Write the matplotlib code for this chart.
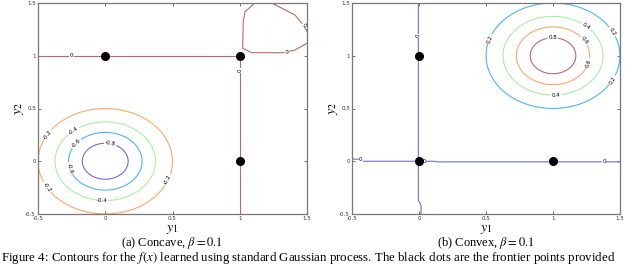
import numpy as np
import matplotlib
matplotlib.use("Agg")
import matplotlib.pyplot as plt

plt.rcParams['mathtext.fontset'] = 'stix'

# ---- data ----
tick_vals = [-0.5, 0, 0.5, 1, 1.5]
tick_labels = ['-0.5', '0', '0.5', '1', '1.5']

# Gaussian-shaped GP mean (amplitude / width read from ring radii)
bump_amp = 0.96
bump_width = 0.282
concave_center = (0.0, 0.0)
convex_center = (1.0, 1.0)

concave_levels = [-0.8, -0.6, -0.4, -0.2]
convex_levels = [0.2, 0.4, 0.6, 0.8]
concave_colors = ['#6b6bd6', '#4db3ff', '#a6f0a0', '#ffa866']
convex_colors = ['#4db3ff', '#a6f0a0', '#ffa866', '#b86a6a']
concave_zero_color = '#b86a6a'
convex_zero_color = '#6b6bd6'

concave_label_pos = [(-0.435, 0.258), (-0.435, -0.247), (0.469, -0.178),
                     (-0.232, 0.274), (-0.026, -0.38),
                     (-0.212, 0.164), (-0.262, -0.067),
                     (0.035, 0.147)]
convex_label_pos = [(0.521, 1.159), (1.443, 1.228), (1.443, 0.77),
                    (1.245, 1.275), (1.022, 0.628),
                    (1.22, 1.133), (1.257, 0.934),
                    (0.997, 1.159)]

# zero-level contour lines
concave_zero_L_x = [-0.5, 1.0, 1.0]
concave_zero_L_y = [1.0, 1.0, -0.5]
concave_blob_x = [1.113, 1.039, 1.026, 1.022, 1.089, 1.324, 1.349, 1.411, 1.5, np.nan,
                  1.238, 1.411, 1.473, 1.5]
concave_blob_y = [1.5, 1.418, 1.323, 1.071, 1.029, 1.029, 1.038, 1.055, 1.118, np.nan,
                  1.5, 1.386, 1.291, 1.228]
concave_zero_labels = [(-0.25, 1.0, 0), (1.0, 0.86, 90), (1.475, 1.29, -50), (1.349, 1.036, 10)]

convex_vert_x = [-0.005, -0.005, 0.005, 0.015, 0.015]
convex_vert_y = [1.5, -0.37, -0.39, -0.42, -0.5]
convex_horiz_x = [-0.5, -0.43, -0.42, 0.12, 0.13, 1.5]
convex_horiz_y = [0.02, 0.02, 0.0, 0.0, -0.006, -0.006]
convex_zero_labels = [(-0.005, 1.19, 90), (0.04, -0.006, 0), (1.38, -0.006, 0), (-0.435, 0.02, 0)]

concave_pts_x = [0, 1, 1]
concave_pts_y = [1, 1, 0]
convex_pts_x = [0, 0, 1]
convex_pts_y = [1, 0, 0]

# ---- figure ----
fig = plt.figure(figsize=(6.4, 2.67), dpi=100)
ax1 = fig.add_axes([38/640, 1-214/267, 269/640, 211/267])
ax2 = fig.add_axes([352/640, 1-214/267, 268/640, 211/267])

gx = np.linspace(-0.5, 1.5, 401)
gy = np.linspace(-0.5, 1.5, 401)
X, Y = np.meshgrid(gx, gy)


def bump(center, sign):
    r2 = (X - center[0])**2 + (Y - center[1])**2
    return sign * bump_amp * np.exp(-r2 / (2 * bump_width**2))


def style(ax):
    ax.set_xlim(-0.5, 1.5)
    ax.set_ylim(-0.5, 1.5)
    ax.set_xticks(tick_vals)
    ax.set_yticks(tick_vals)
    ax.set_xticklabels(tick_labels)
    ax.set_yticklabels(tick_labels)
    ax.tick_params(direction='in', length=2, width=0.6, labelsize=4, pad=1.5,
                   top=True, right=True, colors='#555555', labelcolor='#333333')
    for s in ax.spines.values():
        s.set_color('#777777')
        s.set_linewidth(0.9)
    ax.set_xlabel('$y_1$', fontsize=10, labelpad=1)
    ax.set_ylabel('$y_2$', fontsize=10, labelpad=-0.5)


fmt = lambda v: f'{v:g}'

# concave
cs1 = ax1.contour(X, Y, bump(concave_center, -1), levels=concave_levels,
                  colors=concave_colors, linewidths=0.8)
ax1.clabel(cs1, manual=concave_label_pos, fmt=fmt, fontsize=4, colors='k', inline=True,
           inline_spacing=1)
ax1.plot(concave_zero_L_x, concave_zero_L_y, color=concave_zero_color, lw=0.8)
ax1.plot(concave_blob_x, concave_blob_y, color=concave_zero_color, lw=0.8, clip_on=True)
for x, y, r in concave_zero_labels:
    ax1.text(x, y, '0', fontsize=4, rotation=r, ha='center', va='center',
             bbox=dict(facecolor='white', edgecolor='none', pad=0.3))
ax1.plot(concave_pts_x, concave_pts_y, 'o', color='k', ms=5.5, zorder=5)
style(ax1)

# convex
cs2 = ax2.contour(X, Y, bump(convex_center, 1), levels=convex_levels,
                  colors=convex_colors, linewidths=0.8)
ax2.clabel(cs2, manual=convex_label_pos, fmt=fmt, fontsize=4, colors='k', inline=True,
           inline_spacing=1)
ax2.plot(convex_vert_x, convex_vert_y, color=convex_zero_color, lw=0.8)
ax2.plot(convex_horiz_x, convex_horiz_y, color=convex_zero_color, lw=0.8)
for x, y, r in convex_zero_labels:
    ax2.text(x, y, '0', fontsize=4, rotation=r, ha='center', va='center',
             bbox=dict(facecolor='white', edgecolor='none', pad=0.3))
ax2.plot(convex_pts_x, convex_pts_y, 'o', color='k', ms=5.5, zorder=5)
style(ax2)

serif = ['Liberation Serif', 'DejaVu Serif']
fig.text(172/640, 1-243/267, r'(a) Concave, $\beta = 0.1$', ha='center', va='center',
         fontsize=9, family=serif)
fig.text(486/640, 1-243/267, r'(b) Convex, $\beta = 0.1$', ha='center', va='center',
         fontsize=9, family=serif)
fig.text(0.002, 0.5/267,
         r'Figure 4: Contours for the $f(x)$ learned using standard Gaussian process. '
         r'The black dots are the frontier points provided',
         ha='left', va='bottom', fontsize=9.3, family=serif)

fig.savefig('out.png', dpi=100)
